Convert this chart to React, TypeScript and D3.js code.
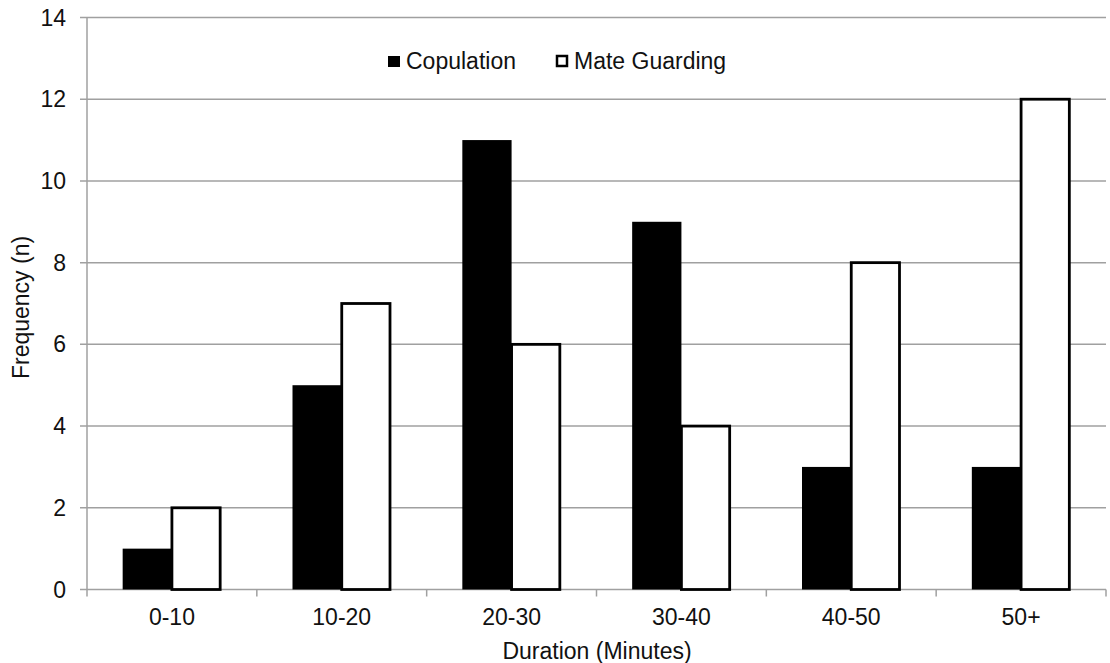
import React from "react";
import * as d3 from "d3";

const categories = ["0-10", "10-20", "20-30", "30-40", "40-50", "50+"];
const copulation = [1, 5, 11, 9, 3, 3];
const mateGuarding = [2, 7, 6, 4, 8, 12];
const yTicks = [0, 2, 4, 6, 8, 10, 12, 14];
const seriesNames = ["Copulation", "Mate Guarding"];

const W = 1110;
const H = 663;
const left = 87;
const right = 1106;
const top = 17.5;
const bottom = 589.5;
const FONT = "'Liberation Sans', Arial, sans-serif";
const GRID = "#a0a0a0";
const FS = 23;

export default function App() {
  const x0 = d3.scaleBand<string>().domain(categories).range([left, right]).paddingInner(0.42).paddingOuter(0.21);
  const x1 = d3.scaleBand<string>().domain(seriesNames).range([0, x0.bandwidth()]).padding(0);
  const y = d3.scaleLinear().domain([0, 14]).range([bottom, top]);
  const step = x0.step();
  const boundaries = categories.map((c) => (x0(c) as number) - (step * 0.42) / 2);
  boundaries.push(right);

  return (
    <svg width={W} height={H} style={{ position: "absolute", left: 0, top: 0, background: "#fff" }}>
      <rect x={0} y={0} width={W} height={H} fill="#fff" />
      {yTicks.map((t) => (
        <g key={t}>
          <line x1={left - 7} x2={right} y1={y(t)} y2={y(t)} stroke={GRID} strokeWidth={1.5} />
          <text x={66} y={y(t)} dy="0.35em" textAnchor="end" fontFamily={FONT} fontSize={FS} fill="#111">
            {t}
          </text>
        </g>
      ))}
      <line x1={left} x2={left} y1={top} y2={bottom} stroke={GRID} strokeWidth={1.5} />
      {boundaries.map((b, i) => (
        <line key={i} x1={b} x2={b} y1={bottom} y2={bottom + 7} stroke={GRID} strokeWidth={1.5} />
      ))}
      {categories.map((c, i) => {
        const gx = x0(c) as number;
        const bw = x1.bandwidth();
        const cx = gx + (x1("Copulation") as number);
        const mx = gx + (x1("Mate Guarding") as number);
        return (
          <g key={c}>
            <rect x={cx} y={y(copulation[i])} width={bw} height={bottom - y(copulation[i])} fill="#000" />
            <rect
              x={mx}
              y={y(mateGuarding[i])}
              width={bw - 1}
              height={bottom - y(mateGuarding[i])}
              fill="#fff"
              stroke="#000"
              strokeWidth={2.8}
            />
            <text x={gx + x0.bandwidth() / 2} y={617} dy="0.35em" textAnchor="middle" fontFamily={FONT} fontSize={FS} fill="#111">
              {c}
            </text>
          </g>
        );
      })}
      {/* legend */}
      <rect x={388} y={56} width={12} height={11} fill="#000" />
      <text x={406} y={61} dy="0.35em" fontFamily={FONT} fontSize={FS} fill="#111">
        Copulation
      </text>
      <rect x={557} y={56} width={10} height={10} fill="#fff" stroke="#000" strokeWidth={2.5} />
      <text x={574} y={61} dy="0.35em" fontFamily={FONT} fontSize={FS} fill="#111">
        Mate Guarding
      </text>
      <text x={(left + right) / 2 + 0.5} y={651} dy="0.35em" textAnchor="middle" fontFamily={FONT} fontSize={FS} fill="#111">
        Duration (Minutes)
      </text>
      <text
        transform={`translate(21, ${(top + bottom) / 2 + 4}) rotate(-90)`}
        dy="0.35em"
        textAnchor="middle"
        fontFamily={FONT}
        fontSize={FS}
        fill="#111"
      >
        Frequency (n)
      </text>
    </svg>
  );
}
